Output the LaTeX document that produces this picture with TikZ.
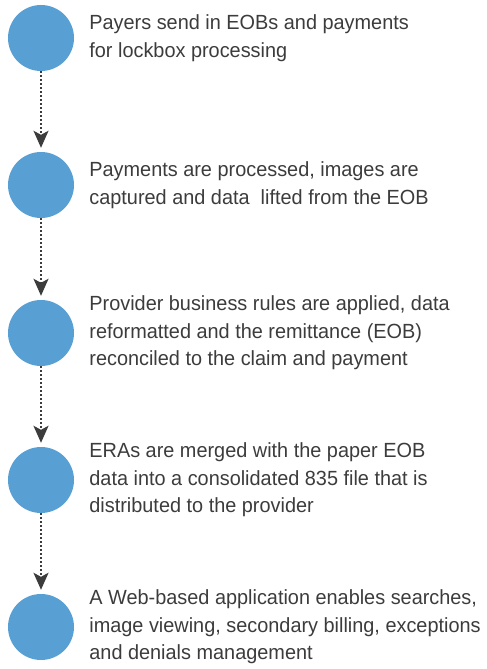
\documentclass[tikz,border=0pt]{standalone}
\usepackage{fontspec}
\setmainfont[FakeStretch=0.97]{Liberation Sans}
\usepackage{tikz}
\usetikzlibrary{arrows.meta}
\usetikzlibrary{positioning}
\definecolor{dotblue}{RGB}{88,160,212}
\definecolor{inkgray}{RGB}{60,60,60}
\tikzset{dot/.style = {fill = dotblue, circle, inner sep = 0, minimum size = 66pt}}
\tikzset{desc/.style = {align = left, inner sep = 0, text = inkgray,
    font = \fontsize{20.5}{27.5}\selectfont}}
\tikzset{flow/.style = {draw = inkgray, line width = 1.8pt, dash pattern = on 2pt off 2pt,
    -{Stealth[length = 17pt, width = 15pt, inset = 4pt]}}}

\begin{document}
\begin{tikzpicture}[x = 1pt, y = -1pt]
    \useasboundingbox (0, 0) rectangle (487, 669);

    \node [dot] (c1) at (41, 38) {};
    \node [dot] (c2) at (41, 185) {};
    \node [dot] (c3) at (41, 333) {};
    \node [dot] (c4) at (41, 480) {};
    \node [dot] (c5) at (41, 627) {};

    \node [desc, right = 15pt of c1] (t1) {Payers send in EOBs and payments\\for lockbox processing};
    \node [desc, right = 15pt of c2] (t2) {Payments are processed, images are\\captured and data\ \ lifted from the EOB};
    \node [desc, right = 15pt of c3] (t3) {Provider business rules are applied, data\\reformatted and the remittance (EOB)\\reconciled to the claim and payment};
    \node [desc, right = 15pt of c4] (t4) {ERAs are merged with the paper EOB\\data into a consolidated 835 file that is\\distributed to the provider};
    \node [desc, right = 15pt of c5] (t5) {A Web-based application enables searches,\\image viewing, secondary billing, exceptions\\and denials management};

    \draw [flow] (c1.south) -- ([yshift = 4pt]c2.north);
    \draw [flow] (c2.south) -- ([yshift = 4pt]c3.north);
    \draw [flow] (c3.south) -- ([yshift = 4pt]c4.north);
    \draw [flow] (c4.south) -- ([yshift = 4pt]c5.north);
  \end{tikzpicture}
\end{document}
